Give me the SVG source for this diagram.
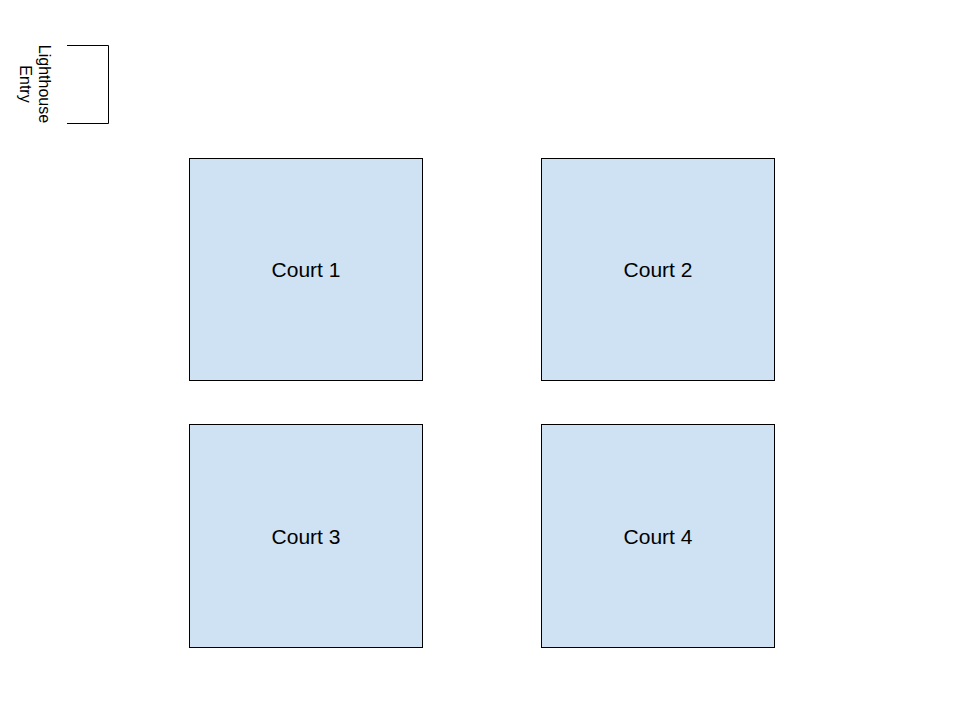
<svg xmlns="http://www.w3.org/2000/svg" width="960" height="720" viewBox="0 0 960 720">
<style>
.court{fill:#cfe2f3;stroke:#000;stroke-width:1}
.lbl{font-family:"Liberation Sans",Arial,sans-serif;font-size:21px;fill:#000;text-anchor:middle}
.sm{font-family:"Liberation Sans",Arial,sans-serif;font-size:16px;fill:#000;text-anchor:middle}
</style>
<rect width="960" height="720" fill="#fff"/>
<g id="entry">
<path d="M67 45.5H108.5V123.5H67" fill="none" stroke="#000"/>
<g transform="translate(34 84) rotate(90)">
<text class="sm" y="-5">Lighthouse</text>
<text class="sm" y="14">Entry</text>
</g>
</g>
<g id="court1"><rect class="court" x="189.5" y="158.5" width="233" height="222"/><text class="lbl" x="306" y="277">Court 1</text></g>
<g id="court2"><rect class="court" x="541.5" y="158.5" width="233" height="222"/><text class="lbl" x="658" y="277">Court 2</text></g>
<g id="court3"><rect class="court" x="189.5" y="424.5" width="233" height="223"/><text class="lbl" x="306" y="544">Court 3</text></g>
<g id="court4"><rect class="court" x="541.5" y="424.5" width="233" height="223"/><text class="lbl" x="658" y="544">Court 4</text></g>
<g id="connectors"/>
</svg>
